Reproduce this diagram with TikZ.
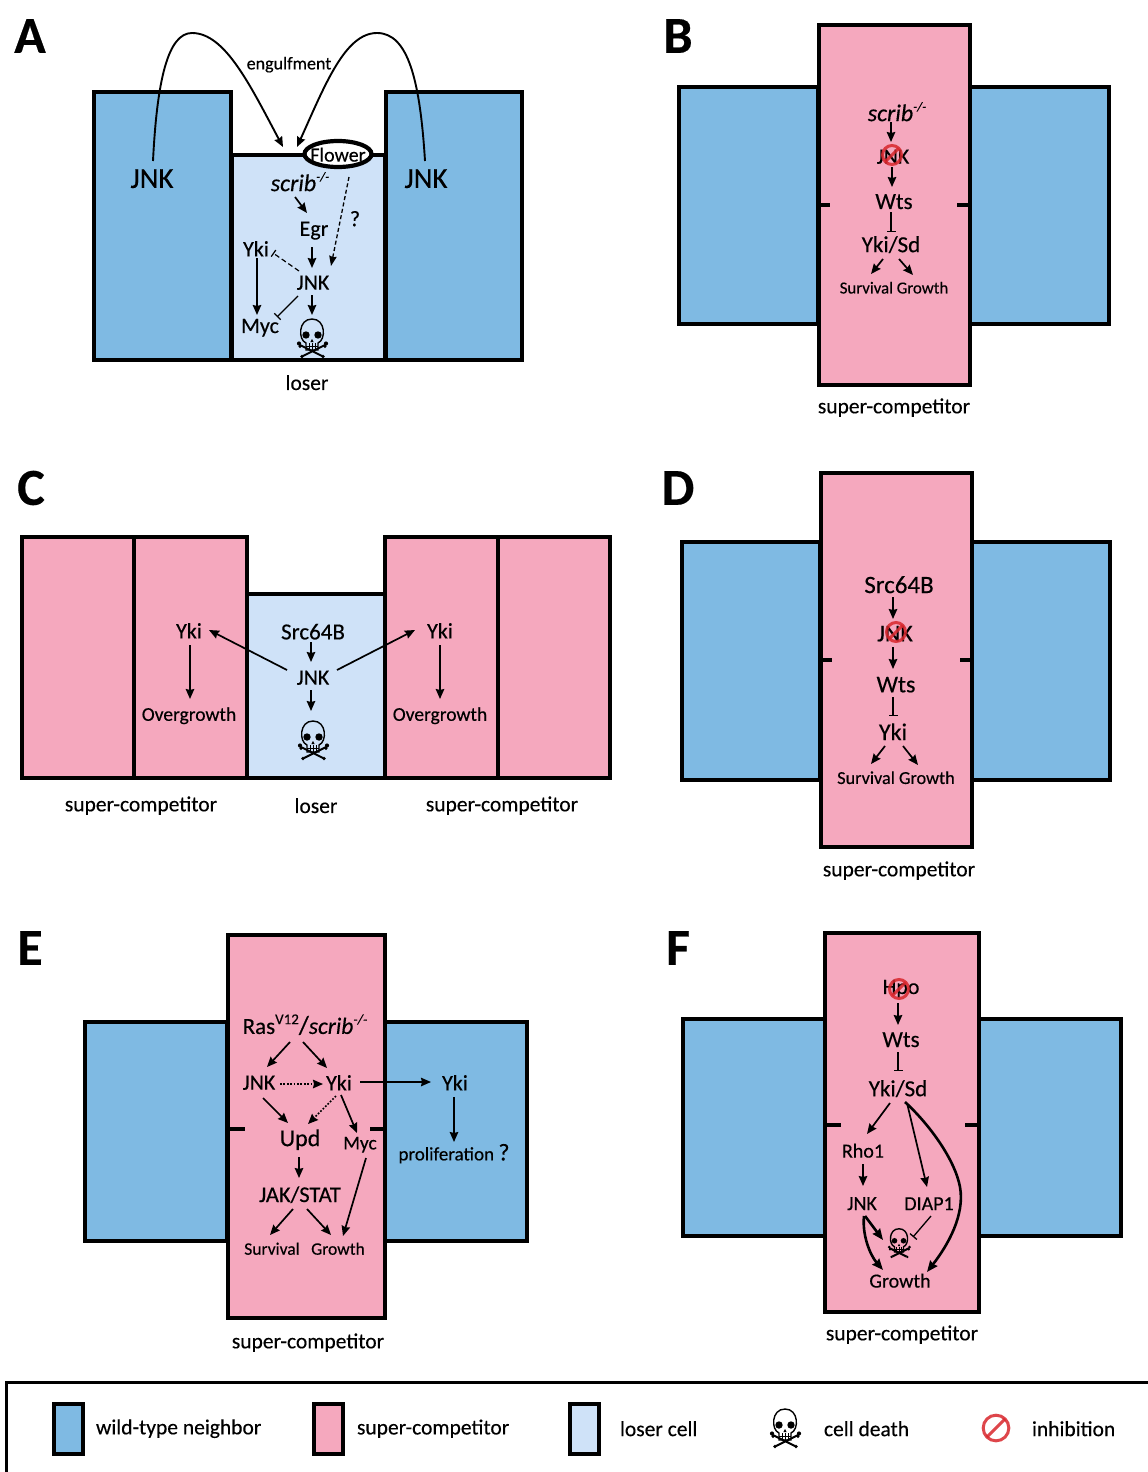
\documentclass[tikz,border=0pt]{standalone}
\usepackage{fontspec}
\setmainfont{Carlito}[FakeBold=0.35]
\usetikzlibrary{arrows.meta,shapes.geometric}
\definecolor{wtblue}{HTML}{7FBAE3}
\definecolor{scpink}{HTML}{F5A8BE}
\definecolor{lsblue}{HTML}{CFE2F8}
\definecolor{inhred}{HTML}{D8262C}
\newcommand\fz[1]{\fontsize{#1}{#1}\selectfont}
\newcommand\sups[2]{\raisebox{.42em}{\fz{#1}#2}}
\newcommand\lnk[5]{\draw[#1] ([shift={(#3)},yshift=.7pt]#2.center) -- ([shift={(#5)},yshift=.7pt]#4.center);}
\tikzset{
  x=1pt,y=-1pt,
  cell/.style={draw=black,line width=4.4pt,line join=miter},
  wt/.style={cell,fill=wtblue},
  sc/.style={cell,fill=scpink},
  ls/.style={cell,fill=lsblue},
  tickm/.style={line width=4.4pt,black},
  lab/.style={inner sep=0pt,outer sep=0pt,text=black,yshift=-.7pt},
  t16/.style={lab,font=\fz{16.8}},
  t17/.style={lab,font=\fz{18.2}},
  t18/.style={lab,font=\fz{18}},
  t19/.style={lab,font=\fz{19.5}},
  t20/.style={lab,font=\fz{20}},
  t21/.style={lab,font=\fz{21.5}},
  t21c/.style={inner sep=0pt,outer sep=0pt,text=black,yshift=-1.6pt,font=\fz{21.5}},
  t22/.style={lab,font=\fz{22}},
  t23/.style={lab,font=\fz{23}},
  t24/.style={lab,font=\fz{24}},
  t28/.style={lab,font=\fz{29}},
  letter/.style={inner sep=0pt,outer sep=0pt,text=black,font=\fz{52}\bfseries},
  arr/.style={line width=1.7pt,-{Stealth[length=10pt,width=8.5pt,inset=1pt]}},
  inh/.style={line width=1.3pt,-{Bar[width=9pt,line width=1.3pt]}},
  thk/.style={line width=2.6pt,-{Stealth[length=11pt,width=9pt,inset=1pt]}},
  dsh/.style={line width=1.3pt,dash pattern=on 4pt off 2.5pt,-{Stealth[length=10pt,width=7.5pt,inset=1pt]}},
  dsi/.style={line width=1.2pt,dash pattern=on 5pt off 3pt,-{Bar[width=8pt,line width=1.2pt]}},
  dot/.style={line width=1.7pt,dash pattern=on 1.7pt off 1.7pt,-{Stealth[length=10pt,width=8.5pt,inset=1pt]}},
  curv/.style={line width=1.9pt,-{Stealth[length=10pt,width=8.5pt,inset=1pt]}},
  skbox/.style={inner sep=0pt,minimum width=32pt,minimum height=40pt},
  skull/.pic={
    \draw[line width=1.4pt] (-6,5) .. controls (-14,2) and (-14,-19) .. (0,-19) .. controls (14,-19) and (14,2) .. (6,5) -- (6,12) -- (-6,12) -- cycle;
    \fill (-6,-3) circle (3.7) (6,-3) circle (3.7);
    \fill (0,1) -- (1.6,4) -- (-1.6,4) -- cycle;
    \draw[line width=.7pt] (-3,5) -- (-3,12) (0,5) -- (0,12) (3,5) -- (3,12) (-6,8.5) -- (6,8.5);
    \draw[line width=2pt] (-12,7) -- (10,18) (13,7) -- (-9,18);
    \fill (-13,5.5) circle (2.1) (-12,8.5) circle (1.6) (14,5.5) circle (2.1) (13,8.5) circle (1.6) (11,18.5) circle (1.8) (-10,18.5) circle (1.8);
  },
  inhib/.pic={
    \draw[inhred,opacity=.85,line width=3pt] (0,0) circle (9.5);
    \draw[inhred,opacity=.85,line width=3pt] (6.7,-6.7) -- (-6.7,6.7);
  }
}
\begin{document}
\begin{tikzpicture}
\useasboundingbox (0,0) rectangle (1148,1472);

% ---------- cells ----------
% A
\draw[ls] (232,155) rectangle (385,360);
\draw[wt] (94,92) rectangle (231,360);
\draw[wt] (386,92) rectangle (522,360);
% B
\draw[wt] (679,87) rectangle (818,324);
\draw[wt] (970,87) rectangle (1109,324);
\draw[sc] (819,25) rectangle (970,385);
\draw[tickm] (819,205) -- (830,205) (957,205) -- (970,205);
% C
\draw[sc] (22,537) rectangle (134,778);
\draw[sc] (134,537) rectangle (247,778);
\draw[ls] (247,594) rectangle (385,778);
\draw[sc] (385,537) rectangle (498,778);
\draw[sc] (498,537) rectangle (610,778);
% D
\draw[wt] (682,542) rectangle (820,780);
\draw[wt] (972,542) rectangle (1110,780);
\draw[sc] (821,473) rectangle (972,847);
\draw[tickm] (821,660) -- (832,660) (960,660) -- (972,660);
% E
\draw[wt] (85,1022) rectangle (227,1241);
\draw[wt] (385,1022) rectangle (527,1241);
\draw[sc] (228,935) rectangle (385,1318);
\draw[tickm] (229,1129) -- (245,1129) (370,1129) -- (385,1129);
% F
\draw[wt] (683,1019) rectangle (825,1236);
\draw[wt] (979,1019) rectangle (1121,1236);
\draw[sc] (825,933) rectangle (979,1312);
\draw[tickm] (827,1125) -- (841,1125) (965,1125) -- (979,1125);

% ---------- panel letters ----------
\node[letter] (letA) at (30,36) {A};
\node[letter] (letB) at (678,36) {B};
\node[letter] (letC) at (31,488) {C};
\node[letter] (letD) at (678,488) {D};
\node[letter] (letE) at (30,948) {E};
\node[letter] (letF) at (678,948) {F};

% ---------- panel A ----------
\node[t28] (aJl) at (152,178) {JNK};
\node[t28] (aJr) at (426,178) {JNK};
\coordinate (aTop) at (290,155);
\node[t18] (aEng) at (289,64) {engulfment};
\draw[curv] ([shift={(1,-17)},yshift=.7pt]aJl.center) .. controls (157,80) and (168,33) .. (192,33) .. controls (225,33) and (250,85) .. ([shift={(-7,-8)}]aTop);
\draw[curv] ([shift={(-1,-17)},yshift=.7pt]aJr.center) .. controls (420,80) and (408,33) .. (377,33) .. controls (345,33) and (325,85) .. ([shift={(7,-8)}]aTop);
\node[draw=black,line width=4.2pt,fill=white,ellipse,inner sep=0pt,minimum width=67pt,minimum height=26pt] (aFl) at (338,154) {};
\node[t20] (aFlt) at (338,154) {Flower};
\node[t24] (aSc) at (300,181) {\textit{scrib}\sups{13}{\textit{-/-}}};
\node[t22] (aEgr) at (314,230) {Egr};
\node[t22] (aJ) at (313,282) {JNK};
\node[t22] (aY) at (256,248) {Yki};
\node[t22] (aM) at (260,327) {Myc};
\node[t22] (aQ) at (355,218) {?};
\node[skbox] (aSk) at (312,338) {};
\pic at (aSk.center) {skull};
\node[t21c] (aL) at (307,381) {loser};
\lnk{arr}{aSc}{-5,16}{aEgr}{-7,-17}
\lnk{arr}{aEgr}{-2,17}{aJ}{-1,-14}
\lnk{arr}{aY}{1,10}{aM}{-3,-12}
\lnk{arr}{aJ}{-1,13}{aSk}{0,-22.3}
\lnk{inh}{aJ}{-15,14}{aM}{17,-10}
\lnk{dsi}{aJ}{-14,-11}{aY}{17,5}
\lnk{dsh}{aFl}{11,23.7}{aJ}{18,-16}

% ---------- panel B ----------
\node[t24] (bS) at (897,111) {\textit{scrib}\sups{13}{\textit{-/-}}};
\node[t22] (bJ) at (893,156) {JNK};
\pic at (892,155) {inhib};
\node[t23] (bW) at (894,201) {Wts};
\node[t23] (bY) at (891,244) {Yki/Sd};
\node[t16] (bV) at (894,287) {Survival Growth};
\node[t21c] (bL) at (894,406) {super-competitor};
\lnk{arr}{bS}{-6,11}{bJ}{-2,-14}
\lnk{arr}{bJ}{-1,11}{bW}{-2,-14}
\lnk{inh}{bW}{-3,11}{bY}{0,-12}
\lnk{arr}{bY}{-8,15}{bV}{-23,-13}
\lnk{arr}{bY}{8,15}{bV}{19,-12}

% ---------- panel C ----------
\node[t22] (cY1) at (189,630) {Yki};
\node[t19] (cO1) at (189,715) {Overgrowth};
\node[t23] (cS) at (313,631) {Src64B};
\node[t22] (cJ) at (313,677) {JNK};
\node[skbox] (cSk) at (313,740) {};
\pic at (cSk.center) {skull};
\node[t22] (cY2) at (440,630) {Yki};
\node[t19] (cO2) at (440,715) {Overgrowth};
\node[t21c] (cL1) at (141,804) {super-competitor};
\node[t21c] (cL2) at (316,804) {loser};
\node[t21c] (cL3) at (502,804) {super-competitor};
\lnk{arr}{cY1}{1,15}{cO1}{1,-16}
\lnk{arr}{cS}{-2,11}{cJ}{-2,-15}
\lnk{arr}{cJ}{-2,13}{cSk}{-2,-28.3}
\lnk{arr}{cJ}{-26,-7}{cY1}{20,0}
\lnk{arr}{cJ}{24,-7}{cY2}{-25,0}
\lnk{arr}{cY2}{0,15}{cO2}{0,-16}

% ---------- panel D ----------
\node[t24] (dS) at (899,584) {\fz{25}Src64B};
\node[t24] (dJ) at (895,633) {JNK};
\pic at (896,632) {inhib};
\node[t24] (dW) at (896,684) {Wts};
\node[t24] (dY) at (893,731) {Yki};
\node[t17] (dV) at (896,777) {Survival Growth};
\node[t21c] (dL) at (899,869) {super-competitor};
\lnk{arr}{dS}{-6,13}{dJ}{-2,-14}
\lnk{arr}{dJ}{-2,14}{dW}{-3,-15}
\lnk{inh}{dW}{-3,13}{dY}{0,-15}
\lnk{arr}{dY}{-8,15}{dV}{-25,-13}
\lnk{arr}{dY}{10,15}{dV}{22,-12}

% ---------- panel E ----------
\node[t23] (eR) at (305,1024) {Ras\sups{15}{V12}\fz{26}/\fz{23.5}\textit{scrib}\sups{14}{\textit{-/-}}};
\node[t22] (eJ) at (259,1082) {JNK};
\node[t22] (eY) at (339,1082) {Yki};
\node[t22] (eY2) at (455,1082) {Yki};
\node[t19] (eP) at (454,1153) {\fz{19}proliferation {\fz{24}?}};
\node[t24] (eU) at (300,1139) {Upd};
\node[t19] (eM) at (360,1144) {Myc};
\node[t21] (eA) at (300,1194) {\fz{22.5}JAK/STAT};
\node[t17] (eV) at (272,1248) {\fz{17.5}Survival};
\node[t17] (eG) at (338,1248) {\fz{17.5}Growth};
\node[t21c] (eL) at (308,1341) {super-competitor};
\lnk{arr}{eR}{-15,18}{eJ}{8,-15}
\lnk{arr}{eR}{-2,18}{eY}{-12,-14}
\lnk{dot}{eJ}{21,2}{eY}{-16,2}
\lnk{arr}{eY}{21,0}{eY2}{-24,0}
\lnk{arr}{eY2}{-1,15}{eP}{0,-11}
\lnk{arr}{eJ}{4,16}{eU}{-12,-16}
\lnk{dot}{eY}{-3,14}{eU}{8,-15}
\lnk{arr}{eY}{2,13}{eM}{-3,-11}
\lnk{arr}{eU}{-1,18}{eA}{-1,-16}
\lnk{arr}{eA}{-7,15}{eV}{-2,-13}
\lnk{arr}{eA}{7,15}{eG}{-7,-13}
\lnk{arr}{eM}{6,14}{eG}{5,-12}

% ---------- panel F ----------
\node[t22] (fH) at (901,988) {Hpo};
\pic at (899,989) {inhib};
\node[t22] (fW) at (901,1039) {\fz{23}Wts};
\node[t22] (fY) at (898,1088) {\fz{23}Yki/Sd};
\node[t20] (fR) at (863,1150) {Rho1};
\node[t20] (fJ) at (862,1203) {JNK};
\node[t20] (fD) at (929,1203) {DIAP1};
\node[skbox,minimum width=24pt,minimum height=30pt] (fSk) at (899,1243) {};
\pic[scale=.75] at (fSk.center) {skull};
\node[t20] (fG) at (900,1280) {Growth};
\node[t21c] (fL) at (902,1333) {super-competitor};
\lnk{arr}{fH}{-3,15}{fW}{-3,-14}
\lnk{inh}{fW}{-3,13}{fY}{0,-17}
\lnk{arr}{fY}{-8,15}{fR}{4,-16}
\lnk{arr}{fR}{0,14}{fJ}{1,-17}
\lnk{arr}{fY}{9,15}{fD}{-2,-16}
\lnk{inh}{fD}{2,13}{fSk}{14,-5.3}
\lnk{thk}{fJ}{3,13}{fSk}{-16,-2.3}
\draw[thk] ([shift={(2,13)},yshift=.7pt]fJ.center) .. controls (862,1235) and (870,1255) .. ([shift={(-17,-10)},yshift=.7pt]fG.center);
\draw[thk] ([shift={(7,14)},yshift=.7pt]fY.center) .. controls (930,1125) and (955,1160) .. (960,1187) .. controls (965,1215) and (948,1245) .. ([shift={(27,-8)},yshift=.7pt]fG.center);

% ---------- legend ----------
\draw[line width=3pt,black] (1148,1382) -- (6,1382) -- (6,1472);
\draw[wt] (54,1404) rectangle (83,1454);
\draw[sc] (314,1404) rectangle (343,1454);
\draw[ls] (570,1404) rectangle (599,1454);
\node[t21,anchor=west] (k1) at (96,1428) {wild-type neighbor};
\node[t21,anchor=west] (k2) at (357,1428) {super-competitor};
\node[t21,anchor=west] (k3) at (620,1428) {loser cell};
\node[skbox] (kSk) at (785,1428) {};
\pic at (kSk.center) {skull};
\node[t21,anchor=west] (k4) at (824,1428) {cell death};
\pic[scale=1.35] at (996,1428) {inhib};
\node[t21,anchor=west] (k5) at (1032,1428) {inhibition};
\end{tikzpicture}
\end{document}
